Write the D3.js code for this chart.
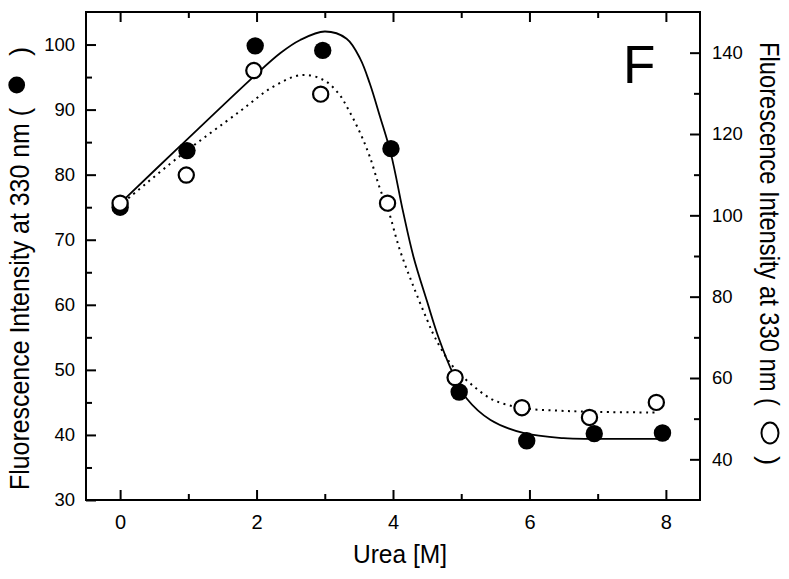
<!DOCTYPE html>
<html>
<head>
<meta charset="utf-8">
<script src="https://cdn.jsdelivr.net/npm/d3@7"></script>
<style>
body { margin: 0; background: #fff; }
svg text { font-family: "Liberation Sans", Arial, Helvetica, sans-serif; fill: #000; }
</style>
</head>
<body>
<div id="chartArea"></div>
<script>
var width = 789,
    height = 579;

// measured points (x in M urea)
var filledX = [0, 0.98, 1.98, 2.97, 3.97, 4.97, 5.96, 6.95, 7.95];
var filledY = [75.0, 83.7, 99.8, 99.1, 84.0, 46.6, 39.1, 40.2, 40.3];
var openX = [0, 0.97, 1.96, 2.94, 3.92, 4.91, 5.89, 6.88, 7.86];
var openY = [103.0, 109.9, 135.6, 129.8, 103.0, 60.1, 52.7, 50.3, 54.0];

// fitted curves
var fitFilled = [[0, 75.6], [0.87, 84.3], [1.95, 95.0], [2.35, 98.7], [2.64, 100.7], [3.0, 102.0],
    [3.32, 100.9], [3.52, 97.8], [3.66, 94.0], [3.81, 88.9], [3.97, 83.2], [4.15, 74.2], [4.3, 67.4],
    [4.5, 60.5], [4.67, 54.9], [4.89, 49.2], [5.08, 45.6], [5.43, 42.3], [5.91, 40.3], [6.5, 39.5],
    [6.94, 39.4], [7.92, 39.4]];
var fitOpen = [[0.05, 103.2], [0.87, 114.5], [1.75, 125.5], [2.24, 131.6], [2.66, 134.5], [2.98, 133.3],
    [3.2, 130.0], [3.35, 125.9], [3.52, 120.2], [3.66, 114.4], [3.81, 106.5], [3.93, 101.3], [4.1, 91.5],
    [4.3, 82.5], [4.5, 74.3], [4.62, 69.8], [4.86, 63.2], [5.13, 58.7], [5.47, 54.6], [5.91, 52.6],
    [6.4, 52.0], [6.89, 51.7], [7.87, 51.5]];

var xTicks = [0, 2, 4, 6, 8],
    xMinor = [1, 3, 5, 7];
var leftTicks = [30, 40, 50, 60, 70, 80, 90, 100],
    leftMinor = [35, 45, 55, 65, 75, 85, 95];
var rightTicks = [40, 60, 80, 100, 120, 140],
    rightMinor = [50, 70, 90, 110, 130];

var svg = d3.select("#chartArea").append("svg:svg")
    .attr("width", width)
    .attr("height", height);

var x = d3.scaleLinear().domain([-0.5, 8.5]).range([86, 700]);
var yL = d3.scaleLinear().domain([30, 105]).range([500, 12]);
var yR = d3.scaleLinear().domain([30, 150]).range([500, 12]);

function addAxis(axis, tx, ty, size) {
    var g = svg.append("svg:g")
        .attr("transform", "translate(" + tx + "," + ty + ")")
        .call(axis);
    g.select(".domain").remove();
    g.selectAll(".tick line").attr("stroke-width", 2);
    g.selectAll("text").style("font-size", size + "px");
    return g;
}

// bottom
addAxis(d3.axisBottom(x).tickValues(xTicks).tickSize(-10).tickPadding(15), 0, 500, 20);
addAxis(d3.axisBottom(x).tickValues(xMinor).tickSize(-6).tickFormat(""), 0, 500, 20);
// top
addAxis(d3.axisTop(x).tickValues(xTicks).tickSize(-10).tickFormat(""), 0, 12, 20);
addAxis(d3.axisTop(x).tickValues(xMinor).tickSize(-6).tickFormat(""), 0, 12, 20);
// left
addAxis(d3.axisLeft(yL).tickValues(leftTicks).tickSize(-10).tickPadding(11), 86, 0, 18.5);
addAxis(d3.axisLeft(yL).tickValues(leftMinor).tickSize(-6).tickFormat(""), 86, 0, 18.5);
// right
addAxis(d3.axisRight(yR).tickValues(rightTicks).tickSize(-10).tickPadding(12), 700, 0, 18.5);
addAxis(d3.axisRight(yR).tickValues(rightMinor).tickSize(-6).tickFormat(""), 700, 0, 18.5);

svg.append("svg:rect")
    .attr("x", 86)
    .attr("y", 12)
    .attr("width", 614)
    .attr("height", 488)
    .style("fill", "none")
    .style("stroke", "#000")
    .style("stroke-width", 2);

// fit lines
var lineL = d3.line()
    .x(function(d) { return x(d[0]); })
    .y(function(d) { return yL(d[1]); })
    .curve(d3.curveCatmullRom.alpha(0.5));
var lineR = d3.line()
    .x(function(d) { return x(d[0]); })
    .y(function(d) { return yR(d[1]); })
    .curve(d3.curveCatmullRom.alpha(0.5));

svg.append("svg:path")
    .attr("d", lineL(fitFilled))
    .style("fill", "none")
    .style("stroke", "#000")
    .style("stroke-width", 1.8);

svg.append("svg:path")
    .attr("d", lineR(fitOpen))
    .style("fill", "none")
    .style("stroke", "#000")
    .style("stroke-width", 2)
    .style("stroke-dasharray", "2,4.5");

// points
svg.selectAll("circle.filled")
    .data(filledX)
    .enter().append("svg:circle")
    .attr("class", "filled")
    .attr("cx", function(d) { return x(d); })
    .attr("cy", function(d, i) { return yL(filledY[i]); })
    .attr("r", 8.7)
    .style("fill", "#000");

svg.selectAll("circle.open")
    .data(openX)
    .enter().append("svg:circle")
    .attr("class", "open")
    .attr("cx", function(d) { return x(d); })
    .attr("cy", function(d, i) { return yR(openY[i]); })
    .attr("r", 7.6)
    .style("fill", "#fff")
    .style("stroke", "#000")
    .style("stroke-width", 2.2);

// axis titles
svg.append("svg:text")
    .attr("x", 400)
    .attr("y", 563)
    .attr("text-anchor", "middle")
    .attr("textLength", 94)
    .attr("lengthAdjust", "spacingAndGlyphs")
    .style("font-size", "26px")
    .text("Urea [M]");

svg.append("svg:text")
    .attr("transform", "translate(29,490) rotate(-90)")
    .attr("textLength", 382)
    .attr("lengthAdjust", "spacingAndGlyphs")
    .style("font-size", "28px")
    .text("Fluorescence Intensity at 330 nm (");
svg.append("svg:circle")
    .attr("cx", 16.7)
    .attr("cy", 85)
    .attr("r", 8.4)
    .style("fill", "#000");
svg.append("svg:text")
    .attr("transform", "translate(29,56) rotate(-90)")
    .style("font-size", "28px")
    .text(")");

svg.append("svg:text")
    .attr("transform", "translate(760,42) rotate(90)")
    .attr("textLength", 364)
    .attr("lengthAdjust", "spacingAndGlyphs")
    .style("font-size", "28px")
    .text("Fluorescence Intensity at 330 nm (");
svg.append("svg:ellipse")
    .attr("cx", 770)
    .attr("cy", 433)
    .attr("rx", 8.5)
    .attr("ry", 10.5)
    .style("fill", "none")
    .style("stroke", "#000")
    .style("stroke-width", 2);
svg.append("svg:text")
    .attr("transform", "translate(760,456) rotate(90)")
    .style("font-size", "28px")
    .text(")");

// panel letter
svg.append("svg:text")
    .attr("x", 623)
    .attr("y", 83)
    .style("font-size", "53px")
    .text("F");
</script>
</body>
</html>
